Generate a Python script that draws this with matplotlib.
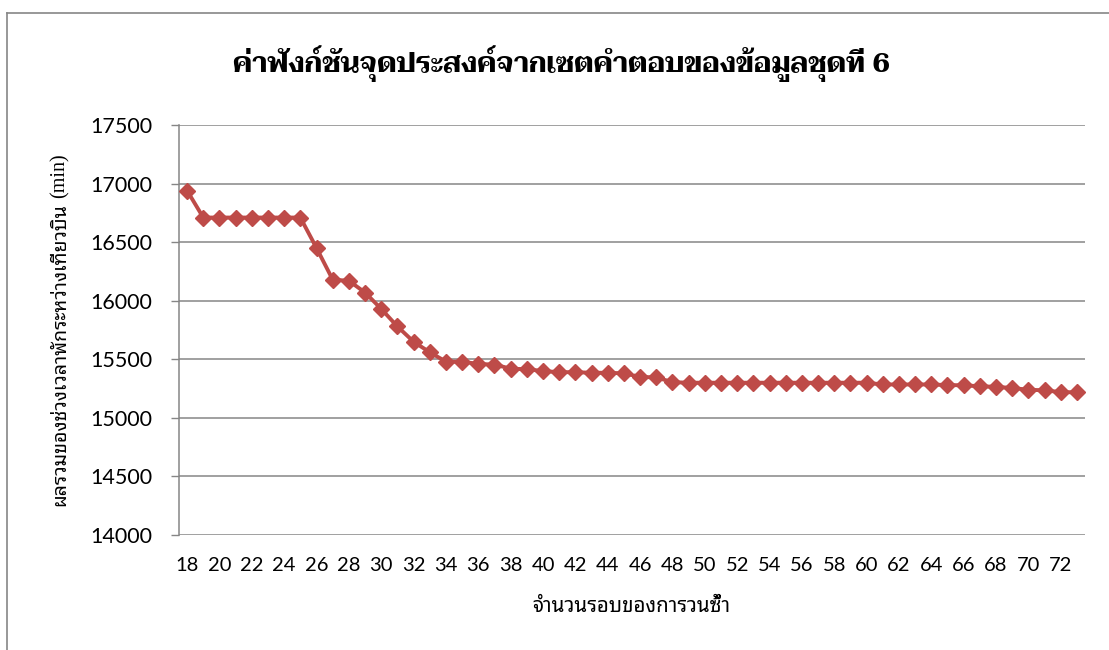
import matplotlib
matplotlib.use("Agg")
import matplotlib.pyplot as plt
from matplotlib import font_manager
from matplotlib.ft2font import FT2Font
from matplotlib.lines import Line2D

# data
iterations = [18, 19, 20, 21, 22, 23, 24, 25, 26, 27, 28, 29, 30, 31, 32, 33,
              34, 35, 36, 37, 38, 39, 40, 41, 42, 43, 44, 45, 46, 47, 48, 49,
              50, 51, 52, 53, 54, 55, 56, 57, 58, 59, 60, 61, 62, 63, 64, 65,
              66, 67, 68, 69, 70, 71, 72, 73]
objective = [16940, 16710, 16710, 16710, 16710, 16710, 16710, 16710, 16450, 16180,
             16170, 16070, 15930, 15780, 15650, 15560, 15480, 15480, 15460, 15455,
             15420, 15415, 15400, 15390, 15390, 15385, 15385, 15380, 15350, 15345,
             15305, 15300, 15300, 15300, 15300, 15300, 15300, 15300, 15300, 15300,
             15300, 15300, 15300, 15285, 15285, 15285, 15285, 15280, 15278, 15270,
             15265, 15255, 15240, 15235, 15220, 15218]
x_ticks = [18, 20, 22, 24, 26, 28, 30, 32, 34, 36, 38, 40, 42, 44, 46, 48, 50,
           52, 54, 56, 58, 60, 62, 64, 66, 68, 70, 72]
y_ticks = [14000, 14500, 15000, 15500, 16000, 16500, 17000, 17500]

title = "ค่าฟังก์ชันจุดประสงค์จากเซตคำตอบของข้อมูลชุดที่ 6"
x_label = "จำนวนรอบของการวนซ้ำ"
y_label = "ผลรวมของช่วงเวลาพักระหว่างเที่ยวบิน"
y_unit = "(min)"


def thai_families():
    found = set()
    for f in font_manager.fontManager.ttflist:
        try:
            if ord("ก") in FT2Font(f.fname).get_charmap():
                found.add(f.name)
        except Exception:
            pass
    return found


thai = thai_families()


def pick(prefs):
    for name in prefs:
        if name in thai:
            return [name, "DejaVu Sans"]
    if thai:
        return [sorted(thai)[0], "DejaVu Sans"]
    return ["DejaVu Sans"]


serif_thai = pick(["Taviraj", "Trirong", "Noto Serif Thai", "Sarabun"])
sans_thai = pick(["Noto Sans Thai Looped", "Sarabun", "Noto Sans Thai"])

red = "#BE4B48"
grid = "#868686"

fig = plt.figure(figsize=(11.09, 6.5), dpi=100)
W, H = 1109, 650
ax = fig.add_axes([179 / W, 115 / H, 906 / W, 410 / H])

ax.plot(iterations, objective, color=red, lw=2.8, marker="D", ms=8.5,
        markerfacecolor=red, markeredgecolor=red, zorder=3)

ax.set_xlim(17.5, 73.5)
ax.set_ylim(14000, 17500)
ax.set_xticks(x_ticks)
ax.set_yticks(y_ticks)
ax.set_xticklabels([str(t) for t in x_ticks], family="Lato", fontsize=14.5)
ax.set_yticklabels([str(t) for t in y_ticks], family="Lato", fontsize=15.5)
ax.tick_params(axis="x", length=0, pad=16)
ax.tick_params(axis="y", length=6, width=1, color=grid, pad=13)
ax.grid(axis="y", color=grid, lw=1.1)
ax.set_axisbelow(True)
for s in ["top", "right", "bottom"]:
    ax.spines[s].set_visible(False)
ax.spines["left"].set_color(grid)
ax.spines["left"].set_linewidth(1.1)

t_title = fig.text(562 / W, (H - 72) / H, title, family=serif_thai, fontsize=24,
                   fontweight="bold", ha="center", va="baseline")
t_x = fig.text(631 / W, (H - 607) / H, x_label, family=sans_thai, fontsize=12,
               fontweight="bold", ha="center", va="center")
t_y = fig.text(60 / W, (H - 203) / H, y_label, family=sans_thai, fontsize=11,
               rotation=90, rotation_mode="anchor", ha="right", va="center")
t_u = fig.text(60 / W, (H - 198) / H, y_unit, family="Liberation Serif", fontsize=11,
               rotation=90, rotation_mode="anchor", ha="left", va="center")


# scale the label fonts so the texts span what they span in the reference
def fit(txt, target, along_x=True):
    bb = txt.get_window_extent(fig.canvas.get_renderer())
    size = bb.width if along_x else bb.height
    txt.set_fontsize(txt.get_fontsize() * target / size)


fit(t_title, 660)
fit(t_x, 197)
fit(t_y, 304, along_x=False)
fit(t_u, 45, along_x=False)

# outer chart border (cropped at right and bottom in the reference)
fig.add_artist(Line2D([7 / W, 7 / W], [0, (H - 12.7) / H], color=grid, lw=1.2,
                      transform=fig.transFigure))
fig.add_artist(Line2D([7 / W, 1], [(H - 12.7) / H, (H - 12.7) / H], color=grid,
                      lw=1.2, transform=fig.transFigure))

fig.savefig("out.png", dpi=100)
